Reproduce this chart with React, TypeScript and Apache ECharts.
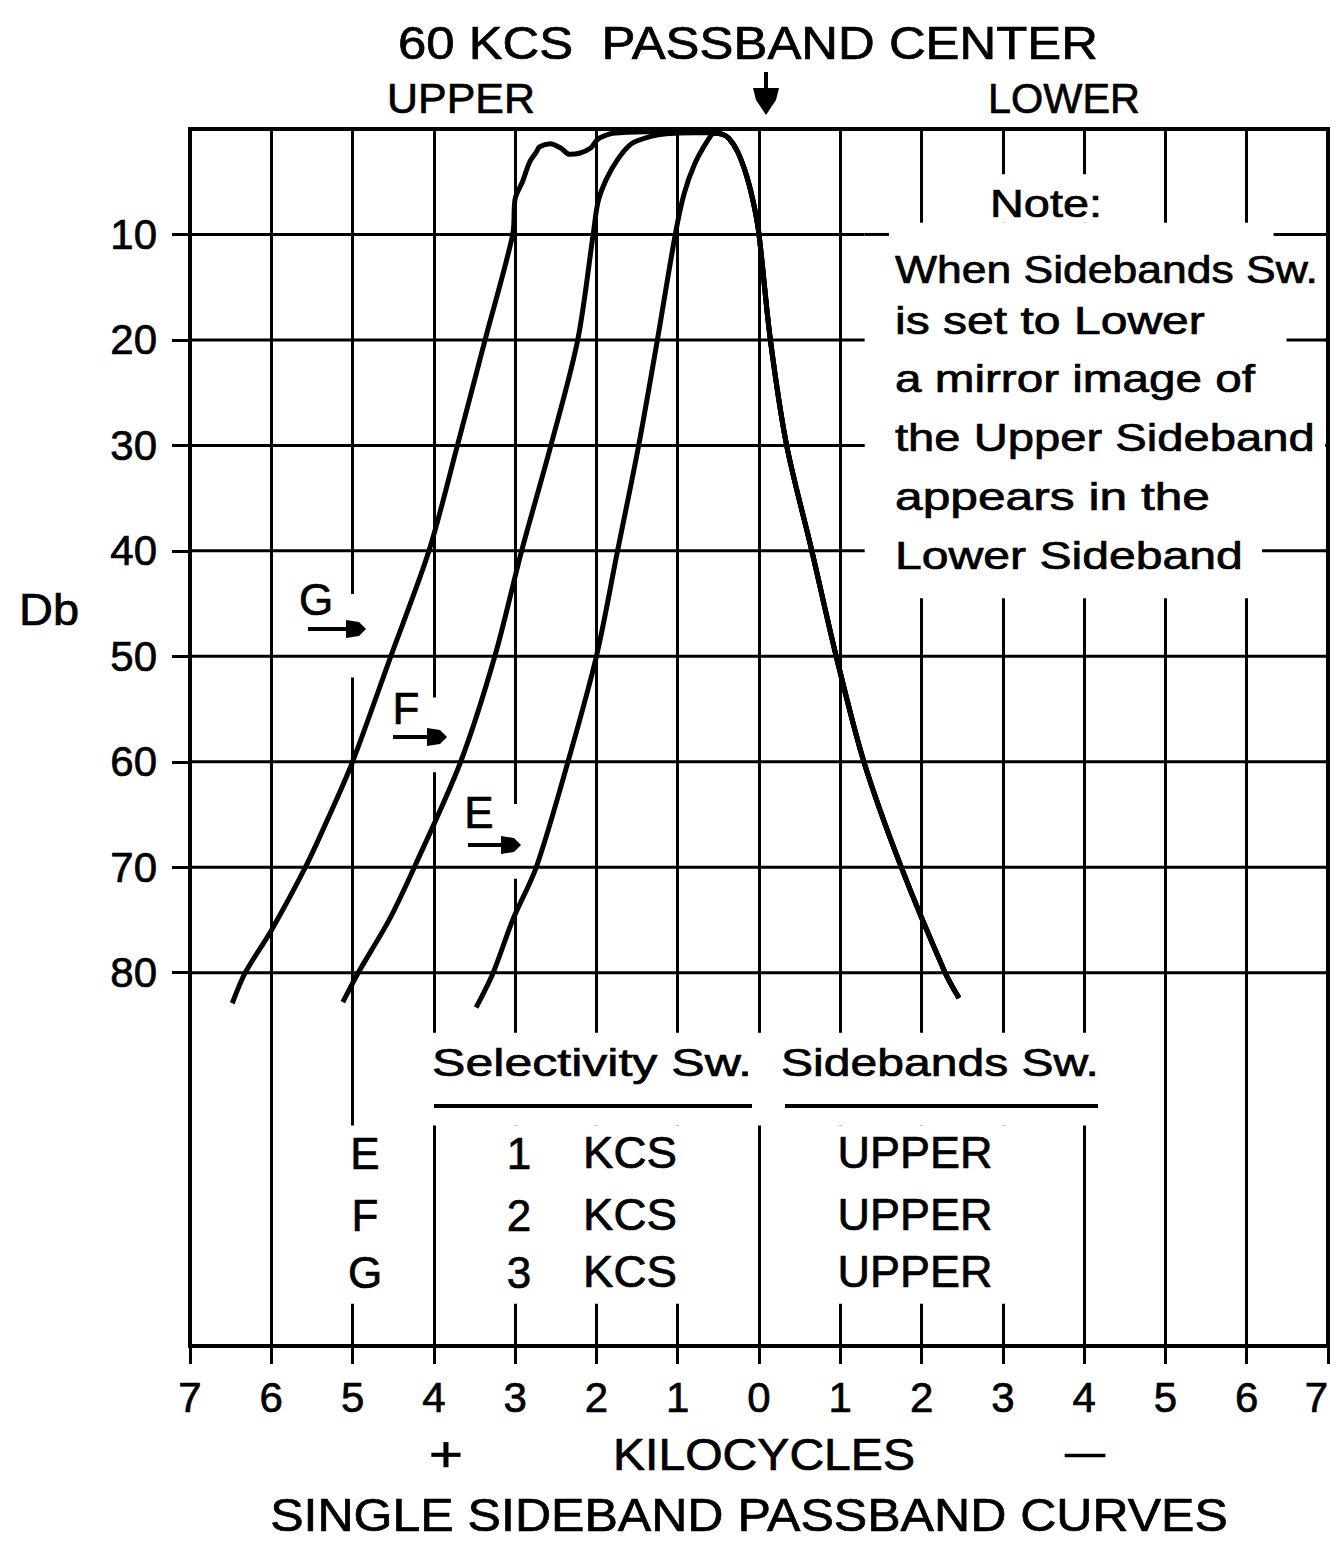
import React, { useEffect, useRef } from "react";
import * as echarts from "echarts";

// ---------------- data ----------------
const xTickValues = [-7, -6, -5, -4, -3, -2, -1, 0, 1, 2, 3, 4, 5, 6, 7];
const dbTickValues = [10, 20, 30, 40, 50, 60, 70, 80];

// upper-sideband (left) skirts, [kc (negative = upper side), dB down]
const curveEUpper: number[][] = [
  [-3.48, 83.3], [-3.27, 80], [-3.03, 75], [-2.74, 70], [-2.35, 60], [-2.0, 50],
  [-1.74, 40], [-1.48, 30], [-1.25, 20], [-1.03, 10], [-0.92, 6.1], [-0.79, 3.3],
  [-0.64, 1.2], [-0.55, 0.4],
];
const curveFUpper: number[][] = [
  [-5.12, 82.8], [-4.93, 80], [-4.55, 75], [-4.24, 70], [-3.67, 60], [-3.25, 50],
  [-2.92, 40], [-2.56, 30], [-2.23, 20], [-2.04, 10], [-1.98, 6.9], [-1.88, 4.8],
  [-1.74, 2.9], [-1.57, 1.4], [-1.33, 0.7], [-1.14, 0.45], [-0.8, 0.35], [-0.6, 0.35],
];
const curveGUpper: number[][] = [
  [-6.48, 82.9], [-6.32, 80], [-6.0, 76], [-5.58, 70], [-5.28, 65], [-5.0, 60],
  [-4.53, 50], [-4.06, 40], [-3.71, 30], [-3.37, 20], [-3.03, 10], [-3.0, 6.6],
  [-2.91, 5.0], [-2.82, 3.1], [-2.74, 2.2], [-2.7, 1.7], [-2.57, 1.4], [-2.44, 1.8],
  [-2.33, 2.4], [-2.21, 2.3], [-2.07, 1.8], [-2.0, 1.1], [-1.95, 0.8], [-1.8, 0.4],
  [-1.4, 0.25], [-0.9, 0.25], [-0.6, 0.35],
];
// common lower-side skirt
const lowerSkirt: number[][] = [
  [-0.45, 0.5], [-0.37, 0.9], [-0.26, 2.2], [-0.15, 4.5], [-0.06, 7.3], [0.0, 10],
  [0.14, 20], [0.34, 30], [0.65, 40], [0.95, 50], [1.29, 60], [1.75, 70],
  [2.29, 80], [2.46, 82.4],
];

const titleLine1 = "60 KCS  PASSBAND CENTER";
const upperLabel = "UPPER";
const lowerLabel = "LOWER";
const yAxisTitle = "Db";
const xAxisTitle = "KILOCYCLES";
const plusSign = "+";
const minusSign = "—";
const chartTitle = "SINGLE SIDEBAND PASSBAND CURVES";
const noteTitle = "Note:";
const noteLines = [
  "When Sidebands Sw.",
  "is set to Lower",
  "a mirror image of",
  "the Upper Sideband",
  "appears in the",
  "Lower Sideband",
];
const tableHeaders = ["Selectivity Sw.", "Sidebands Sw."];
const curveNames = ["E", "F", "G"];
const selectivity = ["1", "2", "3"];
const selectivityUnit = "KCS";
const sidebandSetting = ["UPPER", "UPPER", "UPPER"];

// ---------------- layout ----------------
const W = 1336;
const H = 1551;
const GL = 190;
const GT = 129;
const GW = 1138;
const GH = 1217;
const X_MIN = xTickValues[0];
const X_MAX = xTickValues[xTickValues.length - 1];
const Y_MAX = 115.4;
const FONT = "Liberation Sans";
const TEXT_STROKE = 0.7;

const px = (v: number) => GL + ((v - X_MIN) / (X_MAX - X_MIN)) * GW;
const py = (d: number) => GT + (d / Y_MAX) * GH;

let mctx: CanvasRenderingContext2D | null = null;
function textWidth(text: string, size: number) {
  if (!mctx) mctx = document.createElement("canvas").getContext("2d");
  mctx!.font = `${size}px "${FONT}"`;
  return mctx!.measureText(text).width;
}

function txt(text: string, x: number, y: number, size: number, target?: number, align = "center") {
  const sx = target ? target / textWidth(text, size) : 1;
  return {
    type: "text",
    x,
    y,
    z: 6,
    silent: true,
    scaleX: sx,
    style: {
      text,
      fontSize: size,
      fontFamily: FONT,
      fill: "#000",
      stroke: "#000",
      lineWidth: TEXT_STROKE,
      align,
      verticalAlign: "middle",
      textAlign: align,
      textVerticalAlign: "middle",
    },
  };
}

function whiteRect(x0: number, x1: number, d0: number, d1: number, z: number) {
  return {
    type: "rect",
    z,
    silent: true,
    shape: { x: px(x0), y: py(d0), width: px(x1) - px(x0), height: py(d1) - py(d0) },
    style: { fill: "#fff" },
  };
}

function stub(d: number, x0: number, x1: number) {
  return {
    type: "line",
    z: 4,
    silent: true,
    shape: { x1: px(x0), y1: py(d), x2: px(x1), y2: py(d) },
    style: { stroke: "#000", lineWidth: 3 },
  };
}

function hline(x1: number, x2: number, y: number, w = 4) {
  return {
    type: "line",
    z: 6,
    silent: true,
    shape: { x1, y1: y, x2, y2: y },
    style: { stroke: "#000", lineWidth: w },
  };
}

function rightArrow(x1: number, x2: number, y: number) {
  return [
    hline(x1, x2 - 14, y, 4),
    {
      type: "polygon",
      z: 6,
      silent: true,
      shape: {
        points: [
          [x2 - 20, y - 9], [x2 - 7, y - 7], [x2, y], [x2 - 7, y + 7], [x2 - 20, y + 9],
        ],
      },
      style: { fill: "#000" },
    },
  ];
}

function buildGraphic() {
  const g: any[] = [];
  // gaps in grid lines behind curve labels
  g.push(whiteRect(-5.12, -4.88, 44.1, 52.0, 1));
  g.push(whiteRect(-4.12, -3.88, 53.9, 61.0, 1));
  g.push(whiteRect(-3.12, -2.88, 64.0, 71.1, 1));
  // note box
  g.push(whiteRect(2.5, 4.6, 4.3, 8.9, 3));
  g.push(whiteRect(1.3, 6.965, 8.9, 44.5, 3));
  g.push(stub(10, 1.3, 1.6));
  g.push(stub(10, 6.33, 7));
  g.push(stub(20, 6.49, 7));
  g.push(stub(40, 6.19, 7));
  // table area
  g.push(whiteRect(-4.15, 4.15, 85.7, 94.5, 3));
  g.push(whiteRect(-3.93, -0.07, 94.5, 111.4, 3));
  g.push(whiteRect(0.07, 3.93, 94.5, 111.4, 3));
  g.push(whiteRect(-5.12, -4.88, 94.5, 111.4, 3));

  // header texts
  g.push(txt(titleLine1, 748, 43, 46, 700));
  g.push(txt(upperLabel, 461, 98, 43, 148));
  g.push(txt(lowerLabel, 1064, 98, 43, 152));
  // passband center arrow
  g.push({
    type: "line", z: 6, silent: true,
    shape: { x1: 766, y1: 72, x2: 766, y2: 92 },
    style: { stroke: "#000", lineWidth: 4 },
  });
  g.push({
    type: "polygon", z: 6, silent: true,
    shape: { points: [[753, 88], [779, 88], [776, 100], [766, 115], [756, 100]] },
    style: { fill: "#000" },
  });

  g.push(txt(yAxisTitle, 49, 610, 44, 60));

  // note
  g.push(txt(noteTitle, 1046, 204, 38, 112));
  const noteY = [270, 321, 379, 438, 497, 556];
  const noteW = [423, 310, 360, 420, 315, 348];
  noteLines.forEach((t, i) => g.push(txt(t, 895, noteY[i], 38, noteW[i], "left")));

  // curve labels + arrows
  const lab = [
    { x: 479, y: 812, ax1: 468, ax2: 521, ay: 845 },
    { x: 406, y: 708, ax1: 393, ax2: 447, ay: 737 },
    { x: 316, y: 599, ax1: 308, ax2: 366, ay: 629 },
  ];
  curveNames.forEach((n, i) => {
    g.push(txt(n, lab[i].x, lab[i].y, 44));
    rightArrow(lab[i].ax1, lab[i].ax2, lab[i].ay).forEach((e) => g.push(e));
  });

  // table
  g.push(txt(tableHeaders[0], 592, 1063, 38, 320));
  g.push(txt(tableHeaders[1], 940, 1063, 38, 318));
  g.push(hline(434, 752, 1106, 4));
  g.push(hline(785, 1098, 1106, 4));
  const rowY = [1153, 1215, 1272];
  curveNames.forEach((n, i) => {
    g.push(txt(n, 365, rowY[i], 44));
    g.push(txt(selectivity[i], 519, rowY[i], 44));
    g.push(txt(selectivityUnit, 630, rowY[i], 44, 94));
    g.push(txt(sidebandSetting[i], 915, rowY[i], 44, 155));
  });

  // bottom
  g.push(txt(plusSign, 446, 1453, 50, 34));
  g.push(txt(xAxisTitle, 764, 1455, 44, 302));
  g.push(txt(minusSign, 1085, 1452, 44, 40));
  g.push(txt(chartTitle, 749, 1515, 47, 958));
  return g;
}

function buildOption(): any {
  const gridSeries = dbTickValues.map((v) => ({
    type: "line",
    z: 2,
    silent: true,
    symbol: "none",
    lineStyle: { color: "#000", width: 3 },
    data: [[X_MIN, v], [X_MAX, v]],
  }));
  const curves: [string, number[][]][] = [
    ["E", curveEUpper],
    ["F", curveFUpper],
    ["G", curveGUpper],
  ];
  const curveSeries = curves.map(([name, up]) => ({
    type: "line",
    name,
    z: 5,
    silent: true,
    symbol: "none",
    smooth: 0.3,
    lineStyle: { color: "#000", width: 5 },
    data: [...up, ...lowerSkirt],
  }));

  return {
    animation: false,
    backgroundColor: "#fff",
    grid: {
      left: GL,
      top: GT,
      width: GW,
      height: GH,
      show: true,
      borderColor: "#000",
      borderWidth: 4,
      backgroundColor: "transparent",
      containLabel: false,
      outerBoundsMode: "none",
    },
    xAxis: {
      type: "value",
      position: "bottom",
      min: X_MIN,
      max: X_MAX,
      interval: 1,
      axisLine: { show: false, onZero: false },
      axisTick: { show: true, length: 18, lineStyle: { color: "#000", width: 3 } },
      axisLabel: {
        show: true,
        showMinLabel: true,
        showMaxLabel: true,
        alignMaxLabel: "right",
        margin: 30,
        fontSize: 42,
        fontFamily: FONT,
        color: "#000",
        textBorderColor: "#000",
        textBorderWidth: TEXT_STROKE,
        formatter: (v: number) => String(Math.abs(v)),
      },
      splitLine: { show: true, lineStyle: { color: "#000", width: 3 } },
    },
    yAxis: {
      type: "value",
      position: "left",
      inverse: true,
      min: 0,
      max: Y_MAX,
      interval: 10,
      axisLine: { show: false, onZero: false },
      axisTick: {
        show: true,
        length: 18,
        customValues: dbTickValues,
        lineStyle: { color: "#000", width: 3 },
      },
      axisLabel: {
        show: true,
        customValues: dbTickValues,
        margin: 33,
        fontSize: 42,
        fontFamily: FONT,
        color: "#000",
        textBorderColor: "#000",
        textBorderWidth: TEXT_STROKE,
        formatter: (v: number) => (dbTickValues.indexOf(v) >= 0 ? String(v) : ""),
      },
      splitLine: { show: false },
    },
    graphic: buildGraphic(),
    series: [...gridSeries, ...curveSeries],
  };
}

export default function App() {
  const ref = useRef<HTMLDivElement>(null);
  useEffect(() => {
    const el = ref.current!;
    const chart = echarts.init(el, null, { renderer: "svg", width: W, height: H });
    chart.setOption(buildOption());
    return () => chart.dispose();
  }, []);
  return (
    <div
      ref={ref}
      style={{ position: "absolute", left: 0, top: 0, width: W, height: H, background: "#fff" }}
    />
  );
}
